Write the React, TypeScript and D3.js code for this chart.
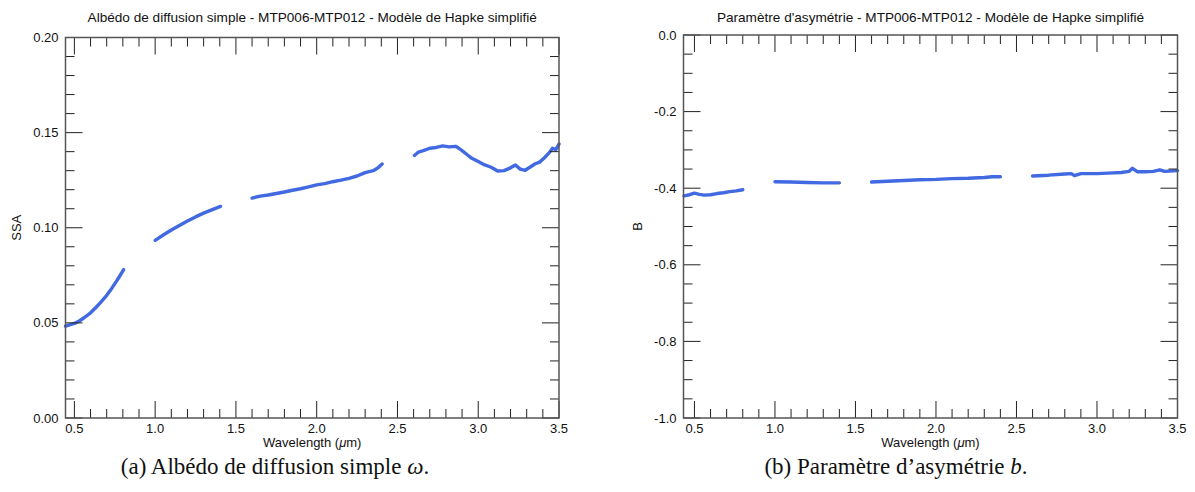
import React from "react";
import * as d3 from "d3";

// ---------- data ----------
const ssaWl1 = [0.445, 0.47, 0.5, 0.53, 0.56, 0.6, 0.63, 0.66, 0.7, 0.73, 0.76, 0.78, 0.805];
const ssaVal1 = [0.0483, 0.049, 0.0497, 0.051, 0.0527, 0.0553, 0.0578, 0.0605, 0.0645, 0.068, 0.0718, 0.0745, 0.078];
const ssaWl2 = [1.0, 1.05, 1.1, 1.15, 1.2, 1.25, 1.3, 1.35, 1.405];
const ssaVal2 = [0.0934, 0.0962, 0.0988, 0.1012, 0.1035, 0.1057, 0.1077, 0.1094, 0.1112];
const ssaWl3 = [1.6, 1.65, 1.7, 1.75, 1.8, 1.85, 1.9, 1.95, 2.0, 2.05, 2.1, 2.15, 2.2, 2.25, 2.3, 2.35, 2.38, 2.405];
const ssaVal3 = [0.1156, 0.1166, 0.1172, 0.118, 0.1188, 0.1197, 0.1205, 0.1215, 0.1225, 0.1232, 0.1242, 0.125, 0.126, 0.1272, 0.129, 0.13, 0.1315, 0.1335];
const ssaWl4 = [2.605, 2.63, 2.66, 2.7, 2.74, 2.78, 2.82, 2.86, 2.88, 2.9, 2.93, 2.96, 3.0, 3.04, 3.08, 3.12, 3.16, 3.2, 3.23, 3.26, 3.29, 3.32, 3.35, 3.38, 3.41, 3.44, 3.46, 3.48, 3.5];
const ssaVal4 = [0.138, 0.1398, 0.1405, 0.1418, 0.1422, 0.143, 0.1425, 0.1428, 0.1418, 0.1405, 0.1385, 0.1365, 0.1348, 0.133, 0.1318, 0.1298, 0.13, 0.1315, 0.133, 0.1308, 0.1302, 0.1318, 0.1335, 0.1345, 0.1368, 0.1395, 0.1418, 0.141, 0.144];

const bWl1 = [0.435, 0.47, 0.5, 0.53, 0.56, 0.6, 0.64, 0.68, 0.72, 0.76, 0.8];
const bVal1 = [-0.42, -0.417, -0.413, -0.416, -0.418, -0.417, -0.414, -0.412, -0.409, -0.407, -0.404];
const bWl2 = [1.0, 1.1, 1.2, 1.3, 1.4];
const bVal2 = [-0.383, -0.384, -0.385, -0.386, -0.386];
const bWl3 = [1.6, 1.7, 1.8, 1.9, 2.0, 2.1, 2.2, 2.3, 2.35, 2.4];
const bVal3 = [-0.384, -0.382, -0.38, -0.378, -0.377, -0.375, -0.374, -0.372, -0.37, -0.37];
const bWl4 = [2.6, 2.7, 2.8, 2.84, 2.86, 2.9, 3.0, 3.1, 3.15, 3.2, 3.22, 3.25, 3.3, 3.35, 3.39, 3.42, 3.5];
const bVal4 = [-0.368, -0.366, -0.363, -0.362, -0.367, -0.362, -0.362, -0.36, -0.359, -0.356, -0.348, -0.357, -0.357, -0.356, -0.352, -0.356, -0.354];

const xMajorTicks = [0.5, 1.0, 1.5, 2.0, 2.5, 3.0, 3.5];
const ssaMajorTicks = [0.0, 0.05, 0.1, 0.15, 0.2];
const bMajorTicks = [-1.0, -0.8, -0.6, -0.4, -0.2, 0.0];

const titleA = "Albédo de diffusion simple - MTP006-MTP012 - Modèle de Hapke simplifié";
const titleB = "Paramètre d'asymétrie - MTP006-MTP012 - Modèle de Hapke simplifié";

type Seg = { x: number[]; y: number[] };

const LINE = "#4169e1";
const FONT = "'Liberation Sans', Arial, Helvetica, sans-serif";
const SERIF = "'Liberation Serif', 'Times New Roman', serif";

function Panel(props: {
  left: number; right: number; top: number; bottom: number;
  xDomain: [number, number]; yDomain: [number, number];
  yMajor: number[]; yMinorStep: number; yFmt: (v: number) => string;
  segs: Seg[]; title: string; yLabel: string; yLabelX: number;
}) {
  const { left, right, top, bottom, xDomain, yDomain, yMajor, yMinorStep, yFmt, segs, title, yLabel, yLabelX } = props;
  const x = d3.scaleLinear().domain(xDomain).range([left, right]);
  const y = d3.scaleLinear().domain(yDomain).range([bottom, top]);
  const line = d3.line<[number, number]>().x(d => x(d[0])).y(d => y(d[1]));
  const xMinor = d3.range(Math.ceil(xDomain[0] * 10), Math.floor(xDomain[1] * 10) + 1)
    .map(v => v / 10)
    .filter(v => !xMajorTicks.some(m => Math.abs(m - v) < 1e-6));
  const nY = Math.round((yDomain[1] - yDomain[0]) / yMinorStep);
  const yMinor = d3.range(0, nY + 1).map(i => yDomain[0] + i * yMinorStep)
    .filter(v => !yMajor.some(m => Math.abs(m - v) < 1e-6));
  const majL = 17, minL = 9;
  const cx = (left + right) / 2;
  const cy = (top + bottom) / 2;
  return (
    <g>
      <text x={cx} y={22} textAnchor="middle" fontSize={13.6} fontFamily={FONT} fill="#111">{title}</text>
      {segs.map((s, i) => (
        <path key={i} d={line(s.x.map((v, j) => [v, s.y[j]]) as [number, number][]) || ""}
          fill="none" stroke={LINE} strokeWidth={3.4} strokeLinejoin="round" strokeLinecap="round" />
      ))}
      <g stroke="#222" strokeWidth={1}>
        {xMajorTicks.map(v => (
          <g key={"xM" + v}>
            <line x1={x(v)} x2={x(v)} y1={bottom} y2={bottom - majL} />
            <line x1={x(v)} x2={x(v)} y1={top} y2={top + majL} />
          </g>
        ))}
        {xMinor.map(v => (
          <g key={"xm" + v}>
            <line x1={x(v)} x2={x(v)} y1={bottom} y2={bottom - minL} />
            <line x1={x(v)} x2={x(v)} y1={top} y2={top + minL} />
          </g>
        ))}
        {yMajor.map(v => (
          <g key={"yM" + v}>
            <line x1={left} x2={left + majL} y1={y(v)} y2={y(v)} />
            <line x1={right} x2={right - majL} y1={y(v)} y2={y(v)} />
          </g>
        ))}
        {yMinor.map(v => (
          <g key={"ym" + v}>
            <line x1={left} x2={left + minL} y1={y(v)} y2={y(v)} />
            <line x1={right} x2={right - minL} y1={y(v)} y2={y(v)} />
          </g>
        ))}
      </g>
      <rect x={left} y={top} width={right - left} height={bottom - top} fill="none" stroke="#555" strokeWidth={1.5} />
      <g fontFamily={FONT} fontSize={13} fill="#111">
        {xMajorTicks.map(v => (
          <text key={"xl" + v} x={x(v)} y={bottom + 15} textAnchor="middle">{v.toFixed(1)}</text>
        ))}
        {yMajor.map(v => (
          <text key={"yl" + v} x={left - 7} y={y(v)} dy="0.35em" textAnchor="end">{yFmt(v)}</text>
        ))}
        <text x={cx} y={bottom + 29} textAnchor="middle">
          Wavelength (<tspan fontStyle="italic">μ</tspan>m)
        </text>
        <text transform={`translate(${yLabelX},${cy}) rotate(-90)`} textAnchor="middle">{yLabel}</text>
      </g>
    </g>
  );
}

export default function App() {
  const segsA: Seg[] = [
    { x: ssaWl1, y: ssaVal1 }, { x: ssaWl2, y: ssaVal2 },
    { x: ssaWl3, y: ssaVal3 }, { x: ssaWl4, y: ssaVal4 },
  ];
  const segsB: Seg[] = [
    { x: bWl1, y: bVal1 }, { x: bWl2, y: bVal2 },
    { x: bWl3, y: bVal3 }, { x: bWl4, y: bVal4 },
  ];
  return (
    <svg width={1195} height={492} style={{ position: "absolute", left: 0, top: 0, background: "#fff" }}>
      <rect width={1195} height={492} fill="#fff" />
      <Panel left={65.5} right={559} top={37.5} bottom={418} xDomain={[0.445, 3.5]} yDomain={[0, 0.2]}
        yMajor={ssaMajorTicks} yMinorStep={0.01} yFmt={v => v.toFixed(2)} segs={segsA} title={titleA}
        yLabel="SSA" yLabelX={21} />
      <Panel left={683.5} right={1177.5} top={35} bottom={418} xDomain={[0.432, 3.5]} yDomain={[-1, 0]}
        yMajor={bMajorTicks} yMinorStep={0.05} yFmt={v => v.toFixed(1)} segs={segsB} title={titleB}
        yLabel="B" yLabelX={642} />
      <text x={275} y={474} textAnchor="middle" fontFamily={SERIF} fontSize={23} fill="#111">
        (a) Albédo de diffusion simple <tspan fontStyle="italic">ω</tspan>.
      </text>
      <text x={896} y={474} textAnchor="middle" fontFamily={SERIF} fontSize={23} fill="#111">
        (b) Paramètre d’asymétrie <tspan fontStyle="italic">b</tspan>.
      </text>
    </svg>
  );
}
